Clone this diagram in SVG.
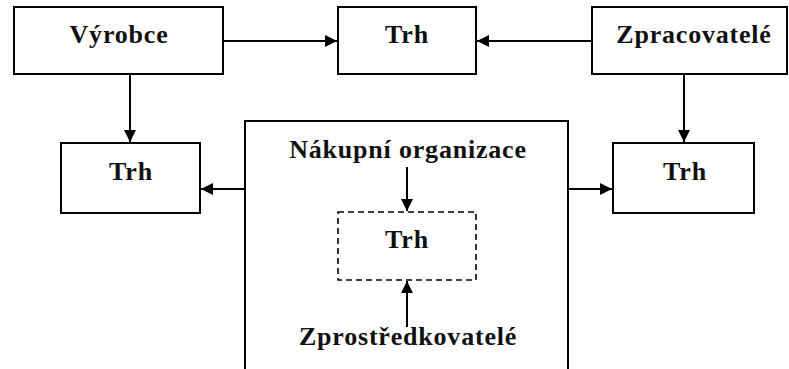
<svg xmlns="http://www.w3.org/2000/svg" width="789" height="369" viewBox="0 0 789 369">
<style>
.box{fill:#fff;stroke:#000;stroke-width:2}
.dash{fill:none;stroke:#000;stroke-width:1.6;stroke-dasharray:6 4}
.lbl{font-family:"Liberation Serif","Times New Roman",serif;font-weight:bold;font-size:26px;letter-spacing:0.8px;fill:#111;text-anchor:middle}
.con{stroke:#000;stroke-width:2;fill:none;marker-end:url(#ah)}
</style>
<defs>
<marker id="ah" viewBox="0 0 12 12" refX="12" refY="6" markerWidth="12" markerHeight="12" markerUnits="userSpaceOnUse" orient="auto">
<path d="M0,0 L12,6 L0,12 Z" fill="#000"/>
</marker>
</defs>
<rect width="789" height="369" fill="#fff"/>
<g id="vyrobce"><rect class="box" x="14" y="7" width="209" height="67"/><text class="lbl" x="119" y="43">Výrobce</text></g>
<g id="trh-top"><rect class="box" x="338" y="7" width="138" height="67"/><text class="lbl" x="407" y="43">Trh</text></g>
<g id="zpracovatele"><rect class="box" x="592" y="7" width="195" height="67"/><text class="lbl" x="694" y="43">Zpracovatelé</text></g>
<g id="trh-left"><rect class="box" x="61" y="143" width="139" height="70"/><text class="lbl" x="131" y="180">Trh</text></g>
<g id="trh-right"><rect class="box" x="613" y="143" width="141" height="70"/><text class="lbl" x="685" y="180">Trh</text></g>
<g id="nakupni-organizace"><rect class="box" x="245" y="121" width="323" height="260"/><text class="lbl" x="408" y="158">Nákupní organizace</text></g>
<g id="trh-inner"><rect class="dash" x="338" y="212" width="138" height="68"/><text class="lbl" x="407" y="248">Trh</text></g>
<g id="zprostredkovatele"><text class="lbl" x="408" y="345">Zprostředkovatelé</text></g>
<g id="connectors">
<line class="con" x1="223" y1="41" x2="337" y2="41"/>
<line class="con" x1="592" y1="41" x2="477" y2="41"/>
<line class="con" x1="130" y1="74" x2="130" y2="142"/>
<line class="con" x1="684" y1="74" x2="684" y2="142"/>
<line class="con" x1="245" y1="189" x2="201" y2="189"/>
<line class="con" x1="568" y1="189" x2="612" y2="189"/>
<line class="con" x1="407" y1="167" x2="407" y2="211"/>
<line class="con" x1="407" y1="327" x2="407" y2="281"/>
</g>
</svg>
